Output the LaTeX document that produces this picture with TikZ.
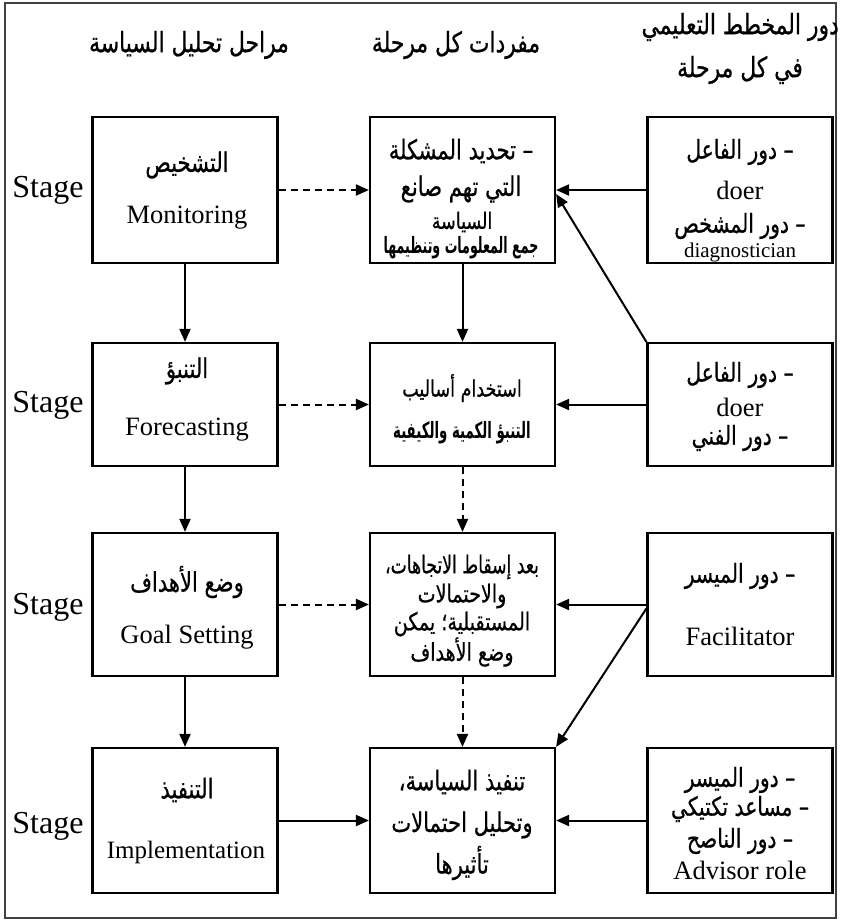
\documentclass[tikz,border=0pt]{standalone}
\usepackage{fontspec}
\setmainfont{Liberation Serif}
\newfontfamily\arabicfont[Script=Arabic,FakeStretch=0.78,UprightFeatures={FakeBold=0.6}]{DejaVu Sans}
\TeXXeTstate=1
\usetikzlibrary{arrows.meta,calc}

% right-to-left Arabic run
\newcommand\artxt[1]{{\arabicfont\beginR #1\endR}}
% bold, condensed Arabic run
\newcommand\arbold[2][0.72]{\scalebox{#1}[1]{\arabicfont\bfseries\beginR #2\endR}}

\begin{document}
\begin{tikzpicture}[x=1pt,y=-1pt,
  frame/.style={draw=black!75,line width=2pt},
  stagebox/.style={draw,line width=2.2pt,minimum width=185pt,inner sep=0pt},
  lbl/.style={inner sep=0pt,align=center},
  en/.style={lbl,font=\fontsize{26.5}{30}\selectfont},
  ensmall/.style={lbl,font=\fontsize{21}{24}\selectfont},
  arleft/.style={lbl,font=\fontsize{27}{30}\selectfont},
  arright/.style={lbl,font=\fontsize{26}{28}\selectfont},
  armid/.style={lbl,font=\fontsize{27}{30}\selectfont},
  armidsmall/.style={lbl,font=\fontsize{22.5}{26}\selectfont},
  armidthree/.style={lbl,font=\fontsize{24.5}{28}\selectfont},
  head/.style={lbl,font=\fontsize{28}{32}\selectfont},
  stagelbl/.style={lbl,font=\fontsize{32}{36}\selectfont},
  arr/.style={line width=2pt,-{Triangle[length=13pt,width=11pt]}},
  darr/.style={arr,dash pattern=on 7pt off 5pt}
]
\useasboundingbox (0,0) rectangle (841,924);
\fill[white] (0,0) rectangle (841,924);
\draw[frame] (5,3) rectangle (836,918);

% column headings
\node[head] (h1) at (189,45) {\artxt{مراحل تحليل السياسة}};
\node[head] (h2) at (456,45) {\artxt{مفردات كل مرحلة}};
\node[head,anchor=east] (h3) at (839,27) {\artxt{دور المخطط التعليمي}};
\node[head] (h4) at (740,70) {\artxt{في كل مرحلة}};

% boxes: left = stages, middle = content, right = planner role
\node[stagebox,minimum height=146pt] (L1) at (185,190) {};
\node[stagebox,minimum height=146pt] (M1) at (462.5,190) {};
\node[stagebox,minimum height=146pt] (R1) at (740,190) {};
\node[stagebox,minimum height=123pt] (L2) at (185,404.5) {};
\node[stagebox,minimum height=123pt] (M2) at (462.5,404.5) {};
\node[stagebox,minimum height=123pt] (R2) at (740,404.5) {};
\node[stagebox,minimum height=143pt] (L3) at (185,604.5) {};
\node[stagebox,minimum height=143pt] (M3) at (462.5,604.5) {};
\node[stagebox,minimum height=143pt] (R3) at (740,604.5) {};
\node[stagebox,minimum height=145pt] (L4) at (185,820.5) {};
\node[stagebox,minimum height=145pt] (M4) at (462.5,820.5) {};
\node[stagebox,minimum height=145pt] (R4) at (740,820.5) {};

% stage labels
\node[stagelbl] (s1) at (48,190) {Stage};
\node[stagelbl] (s2) at (48,405) {Stage};
\node[stagelbl] (s3) at (48,607) {Stage};
\node[stagelbl] (s4) at (48,826) {Stage};

% row 1
\node[arleft] (l1a) at (187,165) {\artxt{التشخيص}};
\node[en] (l1b) at (187,218) {Monitoring};
\node[armid] (m1a) at (461,151) {\artxt{– تحديد المشكلة}};
\node[armid] (m1b) at (461,189) {\artxt{التي تهم صانع}};
\node[armidsmall] (m1c) at (462,222) {\artxt{السياسة}};
\node[armidsmall] (m1d) at (461,248) {\arbold[0.72]{جمع المعلومات وتنظيمها}};
\node[arright] (r1a) at (740,152) {\artxt{– دور الفاعل}};
\node[en] (r1b) at (740,190) {doer};
\node[arright] (r1c) at (740,226) {\artxt{– دور المشخص}};
\node[ensmall] (r1d) at (740,252) {diagnostician};

% row 2
\node[arleft] (l2a) at (187,371) {\artxt{التنبؤ}};
\node[en] (l2b) at (187,430) {Forecasting};
\node[armidsmall] (m2a) at (462,388) {\artxt{استخدام أساليب}};
\node[armidsmall] (m2b) at (462,433) {\arbold[0.76]{التنبؤ الكمية والكيفية}};
\node[arright] (r2a) at (740,375) {\artxt{– دور الفاعل}};
\node[en] (r2b) at (740,407) {doer};
\node[arright] (r2c) at (740,438) {\artxt{– دور الفني}};

% row 3
\node[arleft] (l3a) at (187,582) {\artxt{وضع الأهداف}};
\node[en] (l3b) at (187,637) {Goal Setting};
\node[armidthree] (m3a) at (462,567) {\scalebox{0.9}[1]{\artxt{بعد إسقاط الاتجاهات،}}};
\node[armidthree] (m3b) at (462,596) {\artxt{والاحتمالات}};
\node[armidthree] (m3c) at (462,624) {\artxt{المستقبلية؛ يمكن}};
\node[armidthree] (m3d) at (462,652) {\artxt{وضع الأهداف}};
\node[arright] (r3a) at (740,576) {\artxt{– دور الميسر}};
\node[en] (r3b) at (740,636) {Facilitator};

% row 4
\node[arleft] (l4a) at (187,790) {\artxt{التنفيذ}};
\node[en,font=\fontsize{25}{30}\selectfont] (l4b) at (186,852) {Implementation};
\node[armid] (m4a) at (462,782) {\artxt{تنفيذ السياسة،}};
\node[armid] (m4b) at (462,825) {\artxt{وتحليل احتمالات}};
\node[armid] (m4c) at (462,863) {\artxt{تأثيرها}};
\node[arright] (r4a) at (740,780) {\artxt{– دور الميسر}};
\node[arright] (r4b) at (740,809) {\artxt{– مساعد تكتيكي}};
\node[arright] (r4c) at (740,841) {\artxt{– دور الناصح}};
\node[en] (r4d) at (740,870) {Advisor role};

% flow down the stage column
\draw[arr] (L1.south) -- (L2.north);
\draw[arr] (L2.south) -- (L3.north);
\draw[arr] (L3.south) -- (L4.north);
% flow down the content column
\draw[arr] (M1.south) -- (M2.north);
\draw[darr] (M2.south) -- (M3.north);
\draw[darr] (M3.south) -- (M4.north);
% stage -> content
\draw[darr] (L1.east) -- (M1.west);
\draw[darr] (L2.east) -- (M2.west);
\draw[darr] (L3.east) -- (M3.west);
\draw[arr] (L4.east) -- (M4.west);
% role -> content
\draw[arr] (R1.west) -- (M1.east);
\draw[arr] (R2.west) -- (M2.east);
\draw[arr] (R3.west) -- (M3.east);
\draw[arr] (R4.west) -- (M4.east);
% cross links
\draw[arr] (R2.north west) -- ($(M1.east)+(0,4)$);
\draw[arr] ($(R3.west)+(0,4)$) -- (M4.north east);
\end{tikzpicture}
\end{document}
